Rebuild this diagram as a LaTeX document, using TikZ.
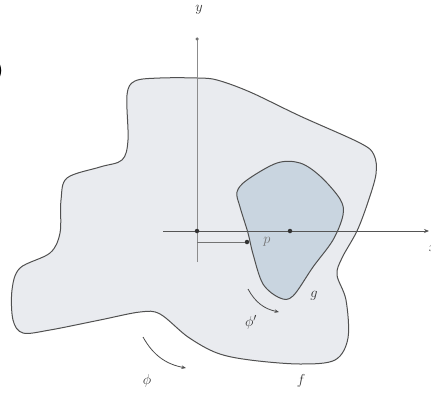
\documentclass[tikz,border=0pt]{standalone}
\usetikzlibrary{arrows.meta}
\definecolor{fregion}{HTML}{E9EBEF}
\definecolor{gregion}{HTML}{C9D5E0}
\definecolor{outline}{HTML}{505050}
\definecolor{axisc}{HTML}{555555}
\tikzset{
  region/.style={draw=outline, line width=1pt},
  axisline/.style={draw=axisc, line width=0.8pt},
  pt/.style={circle, fill=black!80, inner sep=0pt, minimum size=4.5pt},
  rot/.style={draw=black!70, line width=0.8pt, -{Stealth[length=4.5pt,width=3.5pt]}},
  lab/.style={font=\fontsize{15}{17}\selectfont, text=black!80}
}
\begin{document}
\begin{tikzpicture}[x=1pt,y=-1pt]
\useasboundingbox (0,0) rectangle (431,396);
% partially visible label at left edge
\node[anchor=east, inner sep=0pt, font=\fontsize{22}{24}\selectfont\bfseries] (blab) at (4,71) {(b)};
% region f
\path[region, fill=fregion] plot[smooth cycle, tension=0.55] coordinates {
 (197,78) (217,80) (250,92) (300,116) (360,143) (374,155) (376,174) (368,202)
 (357,231) (342,258) (337,275) (346,300) (348,338) (335,360) (300,364) (250,360)
 (217,353) (188,337) (160,314) (140,312) (100,320) (50,330) (23,333) (13,320)
 (12,290) (20,268) (50,253) (60,233) (61,200) (67,178) (100,167) (122,160)
 (128,140) (127,95) (135,81) (160,78)};
% region g
\path[region, fill=gregion] plot[smooth cycle, tension=0.55] coordinates {
 (277,163) (300,163) (320,176) (340,199) (343,215) (333,240) (313,267)
 (293,296) (280,298) (263,284) (253,254) (248,233) (240,207) (237,192) (247,180)};
% axes
\coordinate (ytop) at (197,39);
\coordinate (ybot) at (197,262);
\coordinate (xleft) at (163,231);
\coordinate (xright) at (429,231);
\draw[axisline, draw=black!45] (ybot) -- (ytop);
\node[pt, minimum size=3.5pt, fill=black!55] (ydot) at (ytop) {};
\draw[axisline, -{Stealth[length=5pt,width=4pt]}] (xleft) -- (xright);
\node[lab] (ylab) at (199,10) {$y$};
\node[lab] (xlab) at (433,248) {$x$};
% points
\node[pt] (O) at (197,231) {};
\node[pt] (c) at (290,231) {};
\node[pt] (p) at (247,242) {};
\coordinate (q) at (197,242);
\draw[axisline, draw=black!55] (q) -- (p);
\node[lab, text=black!55] (plab) at (267,242) {$p$};
\node[lab] (glab) at (314,296) {$g$};
\node[lab] (flab) at (301,381) {$f$};
% rotations
\coordinate (r1s) at (248,289);
\coordinate (r1e) at (279,312);
\draw[rot] (r1s) to[bend right=25] (r1e);
\node[lab] (phip) at (251,322) {$\phi'$};
\coordinate (r2s) at (143,337);
\coordinate (r2e) at (186,368);
\draw[rot] (r2s) to[bend right=25] (r2e);
\node[lab] (phi) at (147,381) {$\phi$};
\end{tikzpicture}
\end{document}
